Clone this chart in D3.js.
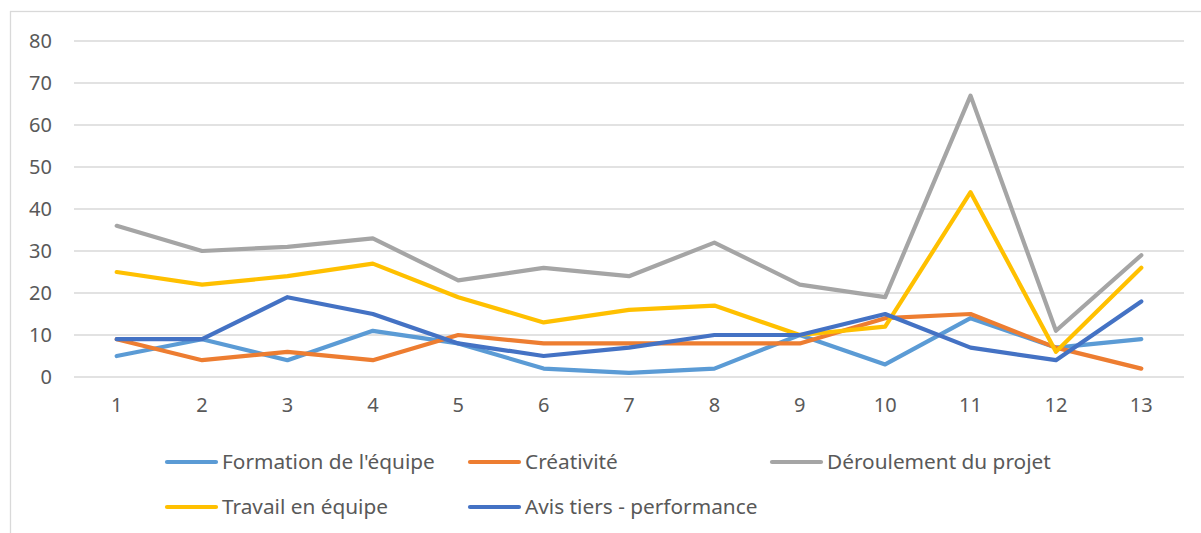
<!DOCTYPE html>
<html><head><meta charset="utf-8">
<script src="https://cdn.jsdelivr.net/npm/d3@7"></script>
<style>body{margin:0;background:#fff}svg{display:block}text{font-family:"Noto Sans",sans-serif;fill:#595959}</style>
</head><body><svg id="c" width="1201" height="533"></svg>
<script>
const categories = ["1","2","3","4","5","6","7","8","9","10","11","12","13"];
const yTicks = [0,10,20,30,40,50,60,70,80];
const seriesNames = ["Formation de l'équipe","Créativité","Déroulement du projet","Travail en équipe","Avis tiers - performance"];
const formation = [5,9,4,11,8,2,1,2,10,3,14,7,9];
const creativite = [9,4,6,4,10,8,8,8,8,14,15,7,2];
const deroulement = [36,30,31,33,23,26,24,32,22,19,67,11,29];
const travail = [25,22,24,27,19,13,16,17,10,12,44,6,26];
const avis = [9,9,19,15,8,5,7,10,10,15,7,4,18];
const colors = ["#5B9BD5","#ED7D31","#A5A5A5","#FFC000","#4472C4"];
const values = [formation, creativite, deroulement, travail, avis];

const svg = d3.select("#c");
svg.append("rect").attr("x",10.5).attr("y",11.5).attr("width",1200).attr("height",530)
  .attr("fill","none").attr("stroke","#D9D9D9").attr("stroke-width",1.3);

const x = d3.scaleBand().domain(categories).range([74,1184]);
const y = d3.scaleLinear().domain([0,80]).range([377,41]);

const grid = svg.append("g");
grid.selectAll("line").data(yTicks).join("line")
  .attr("x1",74).attr("x2",1184).attr("y1",d=>y(d)).attr("y2",d=>y(d))
  .attr("stroke","#D9D9D9").attr("stroke-width",1.3);

const yAxis = svg.append("g").attr("transform","translate(52,0)")
  .call(d3.axisLeft(y).tickValues(yTicks).tickSize(0).tickPadding(0));
yAxis.select(".domain").remove();
yAxis.selectAll("text").attr("font-size",20).attr("font-family","Noto Sans").attr("fill","#595959");

const xAxis = svg.append("g").attr("transform","translate(0,398)")
  .call(d3.axisBottom(x).tickSize(0).tickPadding(0));
xAxis.select(".domain").remove();
xAxis.selectAll("text").attr("font-size",20).attr("font-family","Noto Sans").attr("fill","#595959");

const line = d3.line().x((d,i)=>x(categories[i])+x.bandwidth()/2).y(d=>y(d));
const order = [0,1,2,3,4];
svg.append("g").selectAll("path").data(order).join("path")
  .attr("d",i=>line(values[i])).attr("fill","none").attr("stroke",i=>colors[i])
  .attr("stroke-width",4.2).attr("stroke-linecap","round").attr("stroke-linejoin","round");

const legPos = [[165,462],[468,462],[770,462],[165,507],[468,507]];
const leg = svg.append("g");
seriesNames.forEach((n,i)=>{
  const [lx,ly] = legPos[i];
  leg.append("line").attr("x1",lx+2).attr("x2",lx+51).attr("y1",ly).attr("y2",ly)
    .attr("stroke",colors[i]).attr("stroke-width",4.2).attr("stroke-linecap","round");
  leg.append("text").attr("x",lx+57).attr("y",ly).attr("dy","0.35em")
    .attr("font-size",20.8).text(n);
});
</script></body></html>
